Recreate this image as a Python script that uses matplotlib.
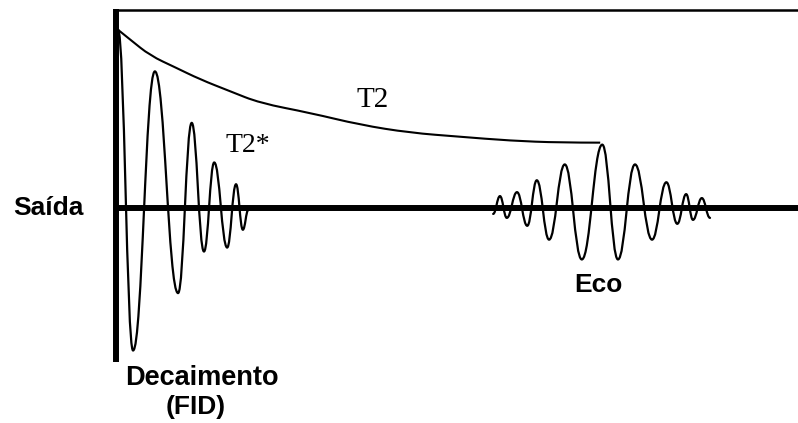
"""Spin-echo sketch: FID decaying with T2*, echo under the T2 envelope."""

import matplotlib

matplotlib.use("Agg")
import matplotlib.pyplot as plt  # noqa: E402
from matplotlib.path import Path  # noqa: E402
from matplotlib.patches import PathPatch  # noqa: E402


# time in arbitrary units, amplitude relative to M0 (top line = 1)
fid_t = [0.3, 2.5, 5.7, 9.1, 11.1, 12.9, 14.4, 16.3, 17.6, 18.6, 19.4]
fid_amp = [0.90, -0.72, 0.69, -0.43, 0.43, -0.22, 0.23, -0.20, 0.12, -0.11, -0.01]

echo_t = [55.3, 56.3, 57.3, 58.8, 60.3, 61.7, 63.5, 65.8, 68.3, 71.3,
          73.6, 76.1, 78.6, 80.7, 82.3, 83.6, 84.6, 85.9, 87.1]
echo_amp = [-0.03, 0.06, -0.05, 0.08, -0.09, 0.14, -0.16, 0.22, -0.26, 0.32,
            -0.26, 0.22, -0.16, 0.13, -0.08, 0.07, -0.06, 0.05, -0.05]

t2_t = [0.3, 2.1, 5.0, 8.7, 12.3, 16.7, 21.1, 28.5, 35.8, 43.1, 50.4, 57.8, 65.1, 71.0]
t2_amp = [0.90, 0.85, 0.77, 0.71, 0.65, 0.59, 0.53, 0.48, 0.42, 0.38, 0.36, 0.34, 0.33, 0.33]

SANS = "Liberation Sans"
SERIF = "Liberation Serif"


def wave_patch(ts, amps, sharp=0.42, lw=1.6):
    """Join the extrema with cubic Beziers that are flat at each extremum."""
    verts = [(ts[0], amps[0])]
    codes = [Path.MOVETO]
    for (t0, a0), (t1, a1) in zip(zip(ts[:-1], amps[:-1]), zip(ts[1:], amps[1:])):
        dt = t1 - t0
        verts += [(t0 + sharp * dt, a0), (t1 - sharp * dt, a1), (t1, a1)]
        codes += [Path.CURVE4] * 3
    return PathPatch(Path(verts, codes), fill=False, lw=lw, ec="black",
                     capstyle="round", joinstyle="round")


def smooth_patch(ts, amps, lw=1.5):
    """Quadratic B-spline style curve: inner points act as control points."""
    pts = list(zip(ts, amps))
    verts = [pts[0]]
    codes = [Path.MOVETO]
    for i in range(1, len(pts) - 1):
        nxt = pts[i + 1] if i + 1 == len(pts) - 1 else (
            (pts[i][0] + pts[i + 1][0]) / 2, (pts[i][1] + pts[i + 1][1]) / 2)
        verts += [pts[i], nxt]
        codes += [Path.CURVE3] * 2
    return PathPatch(Path(verts, codes), fill=False, lw=lw, ec="black")


fig = plt.figure(figsize=(7.98, 4.23), dpi=100)
ax = fig.add_axes([0, 0, 1, 1])
ax.set_xlim(-17.01, 100)
ax.set_ylim(-1.086, 1.0505)
ax.axis("off")

# frame: axes and M0 reference line
ax.plot([0, 100], [1.0, 1.0], color="black", lw=1.8)
ax.plot([0, 100], [0, 0], color="black", lw=4.3, solid_capstyle="butt")
ax.plot([0, 0], [1.005, -0.778], color="black", lw=4.3, solid_capstyle="butt")

ax.add_patch(smooth_patch(t2_t, t2_amp))
ax.add_patch(wave_patch(fid_t, fid_amp))
ax.add_patch(wave_patch(echo_t, echo_amp))

ax.text(-15.1, -0.035, "Saída", family=SANS, weight="bold", fontsize=19,
        ha="left", va="baseline")
ax.text(12.6, -0.894, "Decaimento", family=SANS, weight="bold", fontsize=19.5,
        ha="center", va="baseline")
ax.text(11.7, -1.04, "(FID)", family=SANS, weight="bold", fontsize=19,
        ha="center", va="baseline")
ax.text(70.8, -0.424, "Eco", family=SANS, weight="bold", fontsize=19,
        ha="center", va="baseline")
ax.text(35.3, 0.51, "T2", family=SERIF, fontsize=21, ha="left", va="baseline")
ax.text(16.0, 0.283, "T2*", family=SERIF, fontsize=20, ha="left", va="baseline")

fig.savefig("out.png", dpi=100, facecolor="white")
